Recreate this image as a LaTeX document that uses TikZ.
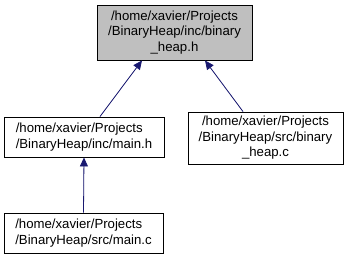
\documentclass[tikz,border=0pt]{standalone}
\usepackage{fontspec}
\setmainfont{Liberation Sans}
\usepackage{xcolor}
\usepackage{tikz}
\usetikzlibrary{arrows.meta}
\definecolor{edgeblue}{HTML}{191970}
\definecolor{curfile}{HTML}{BFBFBF}

\begin{document}
\begin{tikzpicture}[x=1pt, y=1pt, >={Triangle[length=9pt, width=8pt]},
    file/.style={draw=black, line width=0.9pt, inner sep=0pt, align=center,
      font=\fontsize{13.2}{15.5}\selectfont},
    dep/.style={->, draw=edgeblue, fill=edgeblue, line width=0.8pt}]
  \useasboundingbox (0,0) rectangle (349,260);
  \node[file, fill=curfile, minimum width=155pt, minimum height=55pt] (binh) at (174.5,227.5)
    {/home/xavier/Projects\\/BinaryHeap/inc/binary\\\_heap.h};
  \node[file, align=left, minimum width=160pt, minimum height=40pt] (mainh) at (84,123)
    {/home/xavier/Projects\\/BinaryHeap/inc/main.h};
  \node[file, minimum width=155pt, minimum height=52pt] (binc) at (265.5,122)
    {/home/xavier/Projects\\/BinaryHeap/src/binary\\\_heap.c};
  \node[file, align=left, minimum width=159pt, minimum height=40pt] (mainc) at (83.5,27)
    {/home/xavier/Projects\\/BinaryHeap/src/main.c};
  % include edges point at the included file
  \draw[dep] ([xshift=16pt]mainh.north) -- ([xshift=-32.5pt]binh.south);
  \draw[dep] ([xshift=-22.5pt]binc.north) -- ([xshift=30.5pt]binh.south);
  \draw[dep] (mainc.north) -- (mainh.south);
\end{tikzpicture}
\end{document}
